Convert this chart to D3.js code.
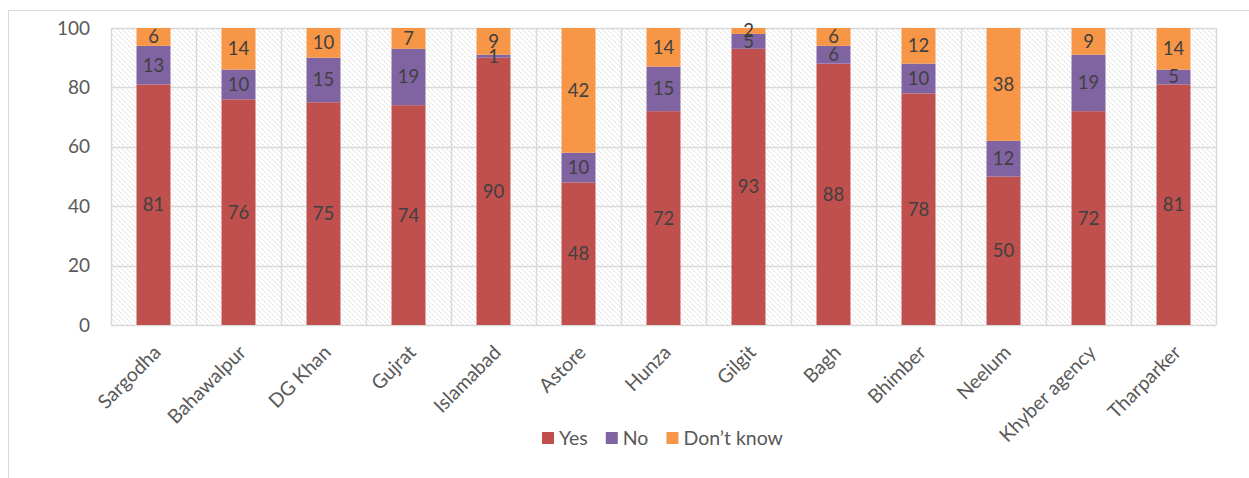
<!DOCTYPE html>
<html>
<head>
<meta charset="utf-8">
<script src="https://cdn.jsdelivr.net/npm/d3@7"></script>
<style>
  body { margin: 0; background: #fff; }
  text { font-family: Lato, "Open Sans", sans-serif; }
</style>
</head>
<body>
<div id="chart"></div>
<script>
// data
var places = ["Sargodha", "Bahawalpur", "DG Khan", "Gujrat", "Islamabad", "Astore", "Hunza",
              "Gilgit", "Bagh", "Bhimber", "Neelum", "Khyber agency", "Tharparker"];
var yes = [81, 76, 75, 74, 90, 48, 72, 93, 88, 78, 50, 72, 81];
var no = [13, 10, 15, 19, 1, 10, 15, 5, 6, 10, 12, 19, 5];
var dontKnow = [6, 14, 10, 7, 9, 42, 14, 2, 6, 12, 38, 9, 14];
var seriesNames = ["Yes", "No", "Don\u2019t know"];
var seriesColors = ["#C0504D", "#8064A2", "#F79646"];
var yTicks = [0, 20, 40, 60, 80, 100];

var W = 1249, H = 478;
var margin = { top: 28, left: 111, right: 33, bottom: 153 },
    w = W - margin.left - margin.right,
    h = H - margin.top - margin.bottom;

var svg = d3.select("#chart").append("svg")
    .attr("width", W)
    .attr("height", H);

// hatch pattern for the plot area
var defs = svg.append("defs");
var pat = defs.append("pattern")
    .attr("id", "hatch")
    .attr("patternUnits", "userSpaceOnUse")
    .attr("width", 5)
    .attr("height", 5);
pat.append("rect").attr("width", 5).attr("height", 5).attr("fill", "#fff");
pat.append("path")
    .attr("d", "M-1,-1 L6,6 M-1,4 L1,6 M4,-1 L6,1")
    .attr("stroke", "#d6d6d6")
    .attr("stroke-width", 1)
    .attr("stroke-dasharray", "2,1");

defs.append("clipPath").attr("id", "plotClip")
    .append("rect").attr("width", w).attr("height", h);

// outer chart border (runs off right and bottom)
svg.append("rect")
    .attr("x", 8.5).attr("y", 10.5)
    .attr("width", 1300).attr("height", 600)
    .attr("fill", "none")
    .attr("stroke", "#d9d9d9");

var g = svg.append("g").attr("transform", "translate(" + margin.left + "," + margin.top + ")");

var x = d3.scaleBand().domain(places).range([0, w]).paddingInner(0).paddingOuter(0);
var y = d3.scaleLinear().domain([0, 100]).range([h, 0]);

g.append("rect").attr("width", w).attr("height", h).attr("fill", "url(#hatch)");

// gridlines
g.selectAll(".hgrid").data(yTicks).enter().append("line")
    .attr("x1", 0).attr("x2", w)
    .attr("y1", function (d) { return Math.round(y(d)) + 0.5; })
    .attr("y2", function (d) { return Math.round(y(d)) + 0.5; })
    .attr("stroke", "#d9d9d9").attr("stroke-width", 1.5);

var bounds = places.map(function (p) { return x(p); }).concat([w]);
g.selectAll(".vgrid").data(bounds).enter().append("line")
    .attr("x1", function (d) { return Math.round(d) + 0.5; })
    .attr("x2", function (d) { return Math.round(d) + 0.5; })
    .attr("y1", 0).attr("y2", h)
    .attr("stroke", "#d9d9d9").attr("stroke-width", 1.5);

// stack the series
var rows = places.map(function (p, i) {
    return { place: p, Yes: yes[i], No: no[i], DK: dontKnow[i] };
});
var stack = d3.stack().keys(["Yes", "No", "DK"])(rows);

var barW = x.bandwidth() * 0.4;
var bars = g.append("g").attr("clip-path", "url(#plotClip)");

stack.forEach(function (layer, k) {
    bars.selectAll(".s" + k).data(layer).enter().append("rect")
        .attr("x", function (d) { return x(d.data.place) + (x.bandwidth() - barW) / 2; })
        .attr("width", barW)
        .attr("y", function (d) { return y(d[1]); })
        .attr("height", function (d) { return y(d[0]) - y(d[1]); })
        .attr("fill", seriesColors[k]);
});

// data labels
stack.forEach(function (layer, k) {
    g.selectAll(".l" + k).data(layer).enter().append("text")
        .attr("x", function (d) { return x(d.data.place) + x.bandwidth() / 2; })
        .attr("y", function (d) { return y((d[0] + Math.min(d[1], 100)) / 2); })
        .attr("dy", "0.35em")
        .attr("text-anchor", "middle")
        .style("font-size", "18.5px")
        .style("fill", "#404040")
        .text(function (d) { return d[1] - d[0]; });
});

// y axis labels
g.selectAll(".ytick").data(yTicks).enter().append("text")
    .attr("x", -21)
    .attr("y", function (d) { return y(d); })
    .attr("dy", "0.35em")
    .attr("text-anchor", "end")
    .style("font-size", "19px")
    .style("fill", "#595959")
    .text(function (d) { return d; });

// x axis labels
g.selectAll(".xtick").data(places).enter().append("text")
    .attr("transform", function (d) {
        return "translate(" + (x(d) + x.bandwidth() / 2 - 1) + "," + (h + 19) + ") rotate(-45)";
    })
    .attr("dy", "0.7em")
    .attr("text-anchor", "end")
    .style("font-size", "19.5px")
    .style("fill", "#595959")
    .text(function (d) { return d; });

// legend
var legend = svg.append("g").attr("transform", "translate(542,438)");
var lx = 0;
seriesNames.forEach(function (name, k) {
    var item = legend.append("g").attr("transform", "translate(" + lx + ",0)");
    item.append("rect")
        .attr("x", 0).attr("y", -6)
        .attr("width", 12).attr("height", 12)
        .attr("fill", seriesColors[k]);
    var t = item.append("text")
        .attr("x", 17).attr("dy", "0.35em")
        .style("font-size", "19.5px")
        .style("fill", "#595959")
        .text(name);
    lx += 17 + t.node().getComputedTextLength() + 18;
});
</script>
</body>
</html>
